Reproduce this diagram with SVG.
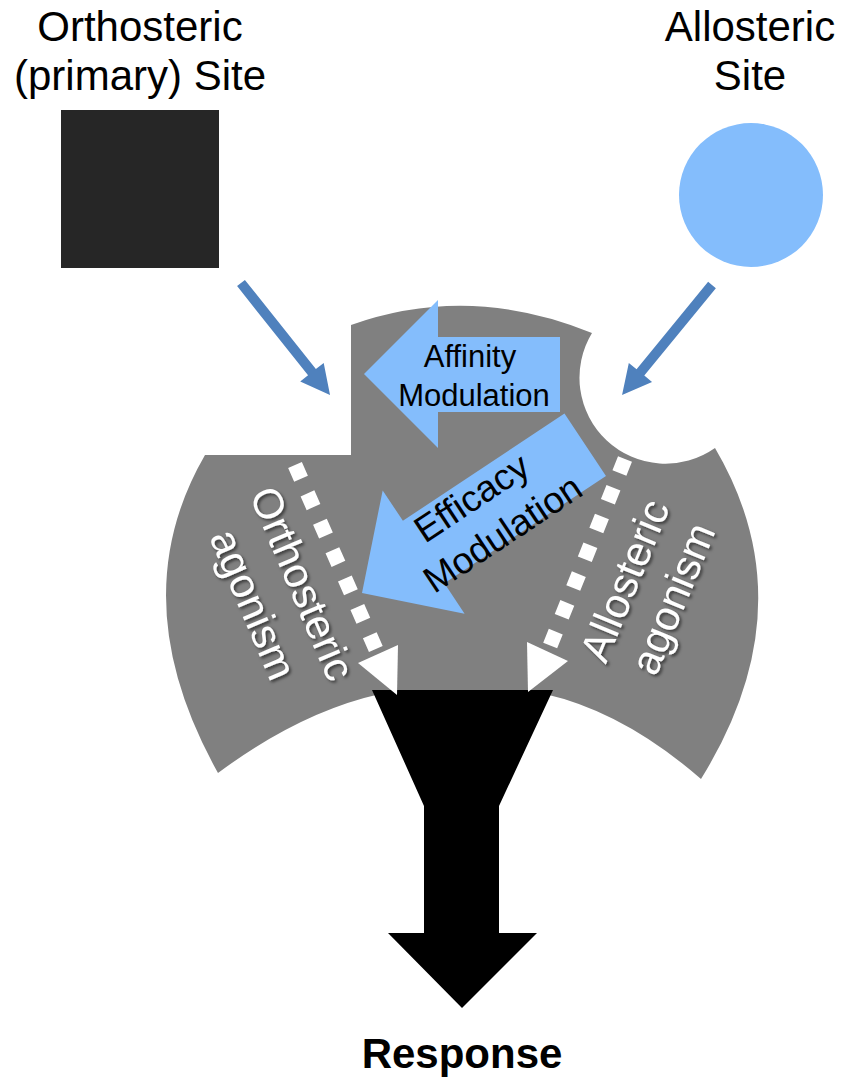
<svg xmlns="http://www.w3.org/2000/svg" width="851" height="1078" viewBox="0 0 851 1078">
  <defs>
    <style>
      .title { font-family: "Liberation Sans", Arial, sans-serif; font-size: 42px; fill: #000; text-anchor: middle; }
      .resp { font-family: "Liberation Sans", Arial, sans-serif; font-size: 42px; font-weight: bold; fill: #000; text-anchor: middle; }
      .mod { font-family: "Liberation Sans", Arial, sans-serif; fill: #000; text-anchor: middle; }
      .ago { font-family: "Liberation Sans", Arial, sans-serif; font-size: 42px; fill: #fff; text-anchor: middle; }
      .lightblue { fill: #84BDFC; }
      .sitearrow { fill: #4F81BD; }
      .dots { fill: none; stroke: #fff; stroke-width: 15; stroke-dasharray: 15 16; }
    </style>
    <filter id="shadow" x="-10%" y="-10%" width="130%" height="130%">
      <feDropShadow dx="2" dy="2" stdDeviation="1.5" flood-color="#000" flood-opacity="0.55"/>
    </filter>
  </defs>
  <rect width="851" height="1078" fill="#fff"/>

  <g id="orthosteric-site">
    <rect x="61" y="110" width="158" height="158" fill="#262626"/>
    <text class="title" x="140" y="41">Orthosteric</text>
    <text class="title" x="140" y="90">(primary) Site</text>
  </g>

  <g id="allosteric-site">
    <circle class="lightblue" cx="751" cy="195" r="72"/>
    <text class="title" x="750" y="41">Allosteric</text>
    <text class="title" x="750" y="90">Site</text>
  </g>

  <g id="receptor">
    <path fill="#808080" d="M351,325 Q470,283 592,333 A86,86 0 0 0 715,448 Q808,606 701,779 Q624,712 545,694 L380,694 Q300,712 218,773 Q121,600 205,455 L351,455 Z"/>
  </g>

  <g id="response">
    <polygon fill="#000" points="372,690 553,690 499,806 499,933 537,933 462,1008 388,933 424,933 424,806"/>
    <text class="resp" x="462" y="1068">Response</text>
  </g>

  <g id="affinity-modulation">
    <polygon class="lightblue" points="364,374 438,300 438,337 560,337 560,412 438,412 438,448"/>
    <text class="mod" font-size="31" x="470" y="367">Affinity</text>
    <text class="mod" font-size="31" x="474" y="406">Modulation</text>
  </g>

  <g id="efficacy-modulation" transform="translate(362,593) rotate(-33.6)">
    <polygon class="lightblue" points="0,0 74,-74 74,-37.5 268,-37.5 268,37.5 74,37.5 74,74"/>
    <text class="mod" font-size="37" x="144" y="-6">Efficacy</text>
    <text class="mod" font-size="37" x="150" y="41">Modulation</text>
  </g>

  <g id="connectors">
    <polygon class="sitearrow" transform="translate(241,283) rotate(51.5)" points="0,-5 114,-5 114,-15 143,0 114,15 114,5 0,5"/>
    <polygon class="sitearrow" transform="translate(712,285) rotate(129.3)" points="0,-5 113,-5 113,-15 142,0 113,15 113,5 0,5"/>
    <path class="dots" d="M295,465 L378,654"/>
    <polygon fill="#fff" points="358,663 398,645 397,695"/>
    <path class="dots" d="M625,459 L548,651"/>
    <polygon fill="#fff" points="527,642 568,661 528,692"/>
  </g>

  <g id="agonism-labels" filter="url(#shadow)">
    <text class="ago" transform="translate(289,589) rotate(67)">Orthosteric</text>
    <text class="ago" transform="translate(240,610) rotate(67)">agonism</text>
    <text class="ago" transform="translate(638,586) rotate(-67.7)">Allosteric</text>
    <text class="ago" transform="translate(686,604) rotate(-67.7)">agonism</text>
  </g>
</svg>
